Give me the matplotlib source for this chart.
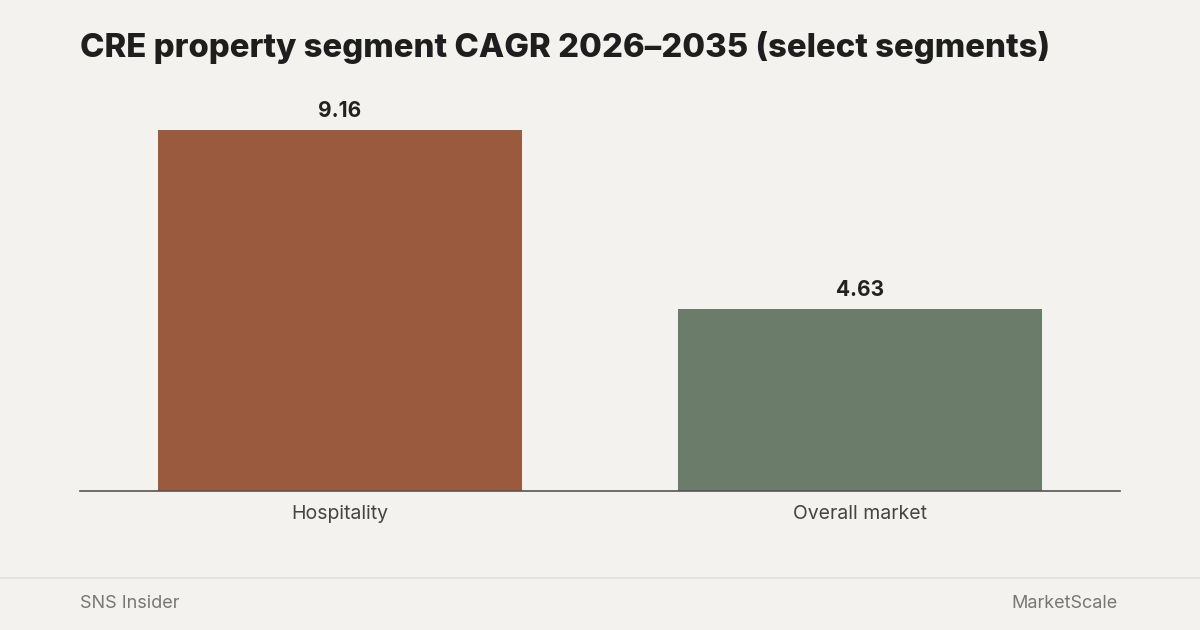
import matplotlib.pyplot as plt
from matplotlib.lines import Line2D

categories = ['Hospitality', 'Overall market']
cagr = [9.16, 4.63]
bar_colors = ['#9a5a3e', '#6b7c6a']

bg = '#f4f2ee'
fig = plt.figure(figsize=(12, 6.3), dpi=100, facecolor=bg)
plt.rcParams['font.family'] = ['Inter', 'DejaVu Sans']

# axes placed in pixel terms: left 80, right 1120, baseline y=491, top y=90
ax = fig.add_axes([80 / 1200, (630 - 491) / 630, 1040 / 1200, 401 / 630])
ax.set_facecolor(bg)
x = range(len(categories))
ax.bar(x, cagr, width=0.7, color=bar_colors)
for i, v in zip(x, cagr):
    ax.text(i, v + 0.22, f'{v:.2f}', ha='center', va='bottom',
            fontsize=15, fontweight='bold', color='#222222')

ax.set_xlim(-0.5, 1.5)
ax.set_ylim(0, 401 / 39.4)
ax.set_xticks(list(x))
ax.set_xticklabels(categories, fontsize=14, color='#444444')
ax.tick_params(axis='x', length=0, pad=10)
ax.set_yticks([])
for s in ['top', 'right', 'left']:
    ax.spines[s].set_visible(False)
ax.spines['bottom'].set_color('#555555')
ax.spines['bottom'].set_linewidth(1.2)

fig.text(80 / 1200, 1 - 47 / 630, 'CRE property segment CAGR 2026\u20132035 (select segments)',
         fontsize=23.7, fontweight='heavy', color='#1e1e1e', va='center')

fig.add_artist(Line2D([0, 1], [1 - 578 / 630] * 2, color='#e2dfd9', lw=1.2))
fig.text(80 / 1200, 1 - 603 / 630, 'SNS Insider', fontsize=13, color='#777777', va='center')
fig.text(1118 / 1200, 1 - 604 / 630, 'MarketScale', fontsize=13, color='#777777',
         va='center', ha='right')

fig.savefig('out.png', dpi=100, facecolor=bg)
